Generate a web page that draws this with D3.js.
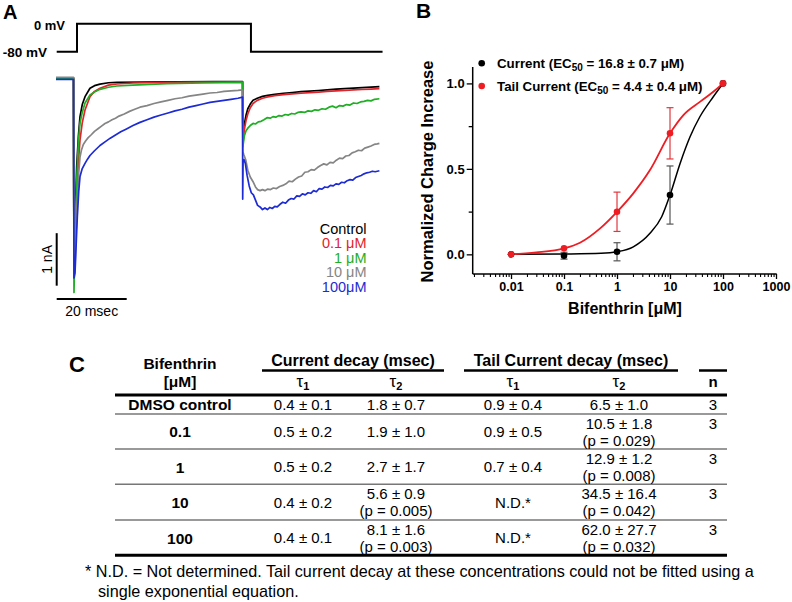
<!DOCTYPE html>
<html><head><meta charset="utf-8">
<script src="https://cdn.jsdelivr.net/npm/d3@7"></script>
<style>
html,body{margin:0;padding:0;background:#fff;}
svg{display:block;font-family:"Liberation Sans",Arial,Helvetica,sans-serif;}
</style></head>
<body>
<svg id="fig" width="792" height="602"></svg>
<script>
// ---------------- DATA ----------------
// Panel A: voltage protocol (ms, mV)
const protocolT = [0.2, 6.0, 6.0, 55.7, 55.7, 93.3];
const protocolV = [-80, -80, 0, 0, -80, -80];

// Panel A: current traces [time ms, current nA]
const traceControl = [[0,0.01],[5.0,0.01],[5.14,-3.8],[5.5,-2.6],[5.91,-1.68],[6.4,-1.1],[6.86,-0.73],[7.5,-0.5],[8.29,-0.35],[9.71,-0.19],[11,-0.14],[12.57,-0.11],[15,-0.085],[17.4,-0.076],[25,-0.07],[35,-0.066],[45,-0.065],[53.3,-0.062],
 [53.4,-1.15],[53.8,-0.88],[54.3,-0.70],[54.8,-0.58],[55.5,-0.49],[56.3,-0.42],[57.5,-0.38],[59,-0.345],[60.5,-0.325],[62.5,-0.305],[65,-0.285],[67.5,-0.27],[70,-0.255],[72.5,-0.245],[75,-0.232],[77.5,-0.22],[80,-0.207],[82.5,-0.197],[85,-0.188],[87.5,-0.178],[90,-0.168],[92.4,-0.16]];
const trace01 = [[0,0],[5.0,0],[5.14,-3.8],[5.6,-2.9],[6.0,-2.1],[6.4,-1.6],[6.86,-1.175],[7.5,-0.85],[8.29,-0.604],[9.71,-0.35],[11,-0.25],[12.57,-0.19],[15,-0.13],[17.4,-0.109],[22,-0.09],[30,-0.08],[40,-0.072],[53.3,-0.068],
 [53.4,-1.25],[53.8,-0.98],[54.3,-0.80],[54.8,-0.68],[55.5,-0.56],[56.3,-0.48],[57.5,-0.42],[59,-0.38],[60.5,-0.355],[62.5,-0.33],[65,-0.31],[67.5,-0.297],[70,-0.285],[72.5,-0.272],[75,-0.262],[77.5,-0.25],[80,-0.24],[82.5,-0.232],[85,-0.222],[87.5,-0.213],[90,-0.205],[92.4,-0.198]];
const trace1 = [[0,0.005],[5.0,0.005],[5.14,-4.08],[5.6,-2.6],[6.0,-1.8],[6.4,-1.2],[6.86,-0.851],[7.5,-0.65],[8.29,-0.47],[9.71,-0.318],[11,-0.26],[12.57,-0.21],[15,-0.17],[17.4,-0.147],[22,-0.13],[31.7,-0.1],[42,-0.09],[53.3,-0.08],
 [53.4,-1.3],[53.8,-1.1],[54.3,-1.0],[54.8,-0.95],[55.5,-0.90],[56.3,-0.86],[57,-0.87],[57.8,-0.83],[58.6,-0.82],[59.4,-0.79],[60.3,-0.75],[61.2,-0.76],[62,-0.73],[62.8,-0.74],[63.7,-0.71],[64.6,-0.72],[65.5,-0.69],[66.4,-0.70],[67.3,-0.67],[68.2,-0.68],[69.1,-0.65],[70,-0.64],[71,-0.65],[72,-0.62],[73,-0.63],[74,-0.60],[75,-0.61],[76,-0.58],[77,-0.59],[78,-0.55],[79,-0.53],[80,-0.56],[81,-0.52],[82,-0.53],[83,-0.50],[84,-0.51],[85,-0.47],[86,-0.48],[87,-0.45],[88,-0.44],[89,-0.42],[90,-0.43],[91,-0.40],[92.4,-0.39]];
const trace10 = [[0,0.02],[5.0,0.02],[5.14,-3.75],[5.43,-3.59],[5.8,-2.8],[6.09,-2.32],[6.5,-1.8],[6.86,-1.50],[7.3,-1.36],[7.8,-1.26],[8.5,-1.19],[9.2,-1.13],[10,-1.08],[11,-1.01],[12,-0.96],[13,-0.91],[14,-0.86],[15,-0.83],[16,-0.79],[17,-0.76],[18,-0.72],[19.5,-0.68],[21,-0.63],[22.5,-0.59],[24,-0.55],[26,-0.52],[28,-0.48],[30,-0.45],[32,-0.42],[34,-0.39],[36,-0.37],[38,-0.34],[40,-0.32],[42,-0.30],[44,-0.28],[46,-0.27],[48,-0.25],[50,-0.24],[52,-0.23],[53.3,-0.22],
 [53.4,-1.40],[53.7,-1.46],[54.2,-1.55],[54.8,-1.75],[55.5,-1.88],[56.3,-1.97],[57.0,-2.07],[57.6,-2.12],[58.3,-2.14],[59,-2.12],[59.7,-2.14],[60.5,-2.11],[61.3,-2.12],[62.1,-2.09],[63,-2.10],[63.9,-2.06],[64.8,-2.04],[65.7,-2.01],[66.6,-1.96],[67.5,-1.97],[68.4,-1.92],[69.3,-1.88],[70.2,-1.86],[71.1,-1.79],[72,-1.78],[72.9,-1.74],[73.8,-1.75],[74.7,-1.70],[75.6,-1.66],[76.5,-1.63],[77.4,-1.65],[78.3,-1.60],[79.2,-1.61],[80.1,-1.56],[81,-1.52],[81.9,-1.53],[82.8,-1.48],[83.7,-1.47],[84.6,-1.42],[85.5,-1.40],[86.4,-1.37],[87.3,-1.38],[88.2,-1.33],[89.1,-1.31],[90,-1.29],[90.9,-1.26],[91.8,-1.25],[92.4,-1.24]];
const trace100 = [[0,-0.02],[5.0,-0.02],[5.14,-3.8],[5.43,-3.71],[5.8,-3.1],[6.09,-2.64],[6.5,-2.15],[6.86,-1.87],[7.5,-1.72],[8.29,-1.62],[9,-1.54],[9.71,-1.47],[11,-1.38],[12.57,-1.28],[14,-1.21],[15.5,-1.14],[17,-1.08],[18.5,-1.02],[20,-0.97],[22,-0.90],[24,-0.84],[26,-0.79],[28,-0.74],[30,-0.70],[32,-0.66],[34,-0.62],[36,-0.59],[38,-0.55],[40,-0.52],[42,-0.49],[44,-0.46],[46,-0.44],[48,-0.42],[50,-0.40],[52,-0.38],[53.3,-0.36],
 [53.34,-2.30],[53.45,-1.6],[53.7,-1.55],[54.1,-1.62],[54.6,-1.85],[55.2,-2.05],[55.8,-2.18],[56.4,-2.22],[57,-2.32],[57.6,-2.42],[58.3,-2.45],[59,-2.50],[59.7,-2.47],[60.4,-2.50],[61.1,-2.46],[61.8,-2.48],[62.5,-2.44],[63.2,-2.45],[64,-2.40],[64.8,-2.36],[65.6,-2.38],[66.4,-2.32],[67.2,-2.29],[68,-2.30],[68.8,-2.24],[69.6,-2.25],[70.4,-2.20],[71.2,-2.22],[72,-2.18],[72.8,-2.19],[73.6,-2.14],[74.4,-2.16],[75.2,-2.10],[76,-2.11],[76.8,-2.07],[77.6,-2.08],[78.4,-2.04],[79.2,-2.05],[80,-2.01],[80.8,-2.02],[81.6,-1.98],[82.4,-1.99],[83.2,-1.95],[84,-1.93],[84.8,-1.94],[85.6,-1.89],[86.4,-1.87],[87.2,-1.85],[88,-1.82],[88.8,-1.80],[89.6,-1.79],[90.4,-1.77],[91.2,-1.78],[92.4,-1.76]];
const traceLabels = ["Control", "0.1 μM", "1 μM", "10 μM", "100μM"];
const traceColors = ["#000000", "#e3232b", "#1fae24", "#858585", "#1d2bd3"];

// Panel B: dose-response
const concentrations = [0.01, 0.1, 1, 10, 100];
const currentMean = [0, -0.008, 0.015, 0.347, 1.0];
const currentErr = [0, 0.02, 0.053, 0.17, 0];
const tailMean = [0, 0.035, 0.249, 0.708, 1.0];
const tailErr = [0, 0, 0.115, 0.15, 0];
const fitCurrentConc = [0.01, 0.1, 0.5, 1, 2.03, 4.19, 6.97, 10, 15.5, 23.9, 36.6, 65.6, 100];
const fitCurrentVal = [0, 0.002, 0.006, 0.015, 0.044, 0.123, 0.22, 0.347, 0.532, 0.688, 0.805, 0.922, 1.0];
const fitTailConc = [0.01, 0.03, 0.1, 0.2, 0.48, 1, 2.03, 4.19, 10, 17.9, 36.6, 65.6, 100];
const fitTailVal = [0, 0.011, 0.035, 0.068, 0.152, 0.249, 0.357, 0.493, 0.708, 0.815, 0.892, 0.951, 1.0];
const xTickValues = [0.01, 0.1, 1, 10, 100, 1000];
const xTickLabels = ["0.01", "0.1", "1", "10", "100", "1000"];
const yTickValues = [0, 0.5, 1.0];
const yTickLabels = ["0.0", "0.5", "1.0"];

// Panel C: table
const concLabels = ["DMSO control", "0.1", "1", "10", "100"];
const curTau1 = ["0.4 ± 0.1", "0.5 ± 0.2", "0.5 ± 0.2", "0.4 ± 0.2", "0.4 ± 0.1"];
const curTau2 = ["1.8 ± 0.7", "1.9 ± 1.0", "2.7 ± 1.7", "5.6 ± 0.9", "8.1 ± 1.6"];
const curTau2P = [null, null, null, "(p = 0.005)", "(p = 0.003)"];
const tailTau1 = ["0.9 ± 0.4", "0.9 ± 0.5", "0.7 ± 0.4", "N.D.*", "N.D.*"];
const tailTau2 = ["6.5 ± 1.0", "10.5 ± 1.8", "12.9 ± 1.2", "34.5 ± 16.4", "62.0 ± 27.7"];
const tailTau2P = [null, "(p = 0.029)", "(p = 0.008)", "(p = 0.042)", "(p = 0.032)"];
const nValues = ["3", "3", "3", "3", "3"];
const footnote1 = "* N.D. = Not determined. Tail current decay at these concentrations could not be fitted using a";
const footnote2 = "single exponential equation.";

// ---------------- DRAW ----------------
const svg = d3.select("#fig");
svg.append("rect").attr("width", 792).attr("height", 602).attr("fill", "#fff");

// ===== Panel A =====
const gA = svg.append("g");
gA.append("text").attr("x", 3).attr("y", 18.5).attr("font-size", 20).attr("font-weight", "bold").text("A");

const xA = d3.scaleLinear().domain([0, 92.4]).range([56, 379.4]);
const yA = d3.scaleLinear().domain([0, -1]).range([78.3, 130.8]);
const yV = d3.scaleLinear().domain([-80, 0]).range([51.7, 23.7]);

const protoLine = d3.line().x((d, i) => xA(protocolT[i])).y(d => yV(d));
gA.append("path").datum(protocolV).attr("d", protoLine)
  .attr("fill", "none").attr("stroke", "#000").attr("stroke-width", 2);
gA.append("text").attr("x", 65).attr("y", 29.5).attr("text-anchor", "end")
  .attr("font-size", 13).attr("font-weight", "bold").text("0 mV");
gA.append("text").attr("x", 47).attr("y", 56.5).attr("text-anchor", "end")
  .attr("font-size", 13.5).attr("font-weight", "bold").text("-80 mV");

const traceLine = d3.line().x(d => xA(d[0])).y(d => yA(d[1]));
const traces = [traceControl, trace01, trace1, trace10, trace100];
traces.forEach((tr, i) => {
  gA.append("path").datum(tr).attr("d", traceLine)
    .attr("fill", "none").attr("stroke", traceColors[i]).attr("stroke-width", 1.7)
    .attr("stroke-linejoin", "round");
});

// legend
traceLabels.forEach((lab, i) => {
  gA.append("text").attr("x", 366.5).attr("y", 234 + i * 14.4)
    .attr("text-anchor", "end").attr("font-size", 14.5).attr("fill", traceColors[i]).text(lab);
});

// scale bars
gA.append("line").attr("x1", xA(0.2)).attr("x2", xA(0.2)).attr("y1", yA(-2.95)).attr("y2", yA(-3.95))
  .attr("stroke", "#000").attr("stroke-width", 2);
gA.append("line").attr("x1", xA(0.2)).attr("x2", xA(20.2)).attr("y1", 299).attr("y2", 299)
  .attr("stroke", "#000").attr("stroke-width", 2);
gA.append("text").attr("transform", `translate(51.5,${(yA(-2.95) + yA(-3.95)) / 2}) rotate(-90)`)
  .attr("text-anchor", "middle").attr("font-size", 14).text("1 nA");
gA.append("text").attr("x", (xA(0.2) + xA(20.2)) / 2).attr("y", 316)
  .attr("text-anchor", "middle").attr("font-size", 14).text("20 msec");

// ===== Panel B =====
const gB = svg.append("g");
gB.append("text").attr("x", 416).attr("y", 18).attr("font-size", 21).attr("font-weight", "bold").text("B");

const xB = d3.scaleLog().domain([Math.pow(10, -2.723), 1000]).range([472.7, 776]);
const yB = d3.scaleLinear().domain([-0.115, 1.096]).range([274, 67]);

// axes lines
gB.append("line").attr("x1", 472.7).attr("x2", 472.7).attr("y1", 67).attr("y2", 274).attr("stroke", "#000").attr("stroke-width", 1.5);
gB.append("line").attr("x1", 472.7).attr("x2", 776.7).attr("y1", 274).attr("y2", 274).attr("stroke", "#000").attr("stroke-width", 1.5);

const yAxis = d3.axisLeft(yB).tickValues(yTickValues).tickSize(6).tickFormat((d, i) => yTickLabels[i]);
const gy = gB.append("g").attr("transform", "translate(472.7,0)").call(yAxis);
gy.select(".domain").remove();
gy.selectAll("line").attr("stroke-width", 1.3);
gy.selectAll("text").attr("font-size", 13).attr("font-weight", "bold").attr("font-family", "Liberation Sans, Arial, sans-serif").attr("x", -8);
const yMinor = d3.axisLeft(yB).tickValues([0.25, 0.75]).tickSize(4).tickFormat("");
const gym = gB.append("g").attr("transform", "translate(472.7,0)").call(yMinor);
gym.select(".domain").remove();
gym.selectAll("line").attr("stroke-width", 1.3);

const xAxis = d3.axisBottom(xB).tickValues(xTickValues).tickSize(5).tickFormat((d, i) => xTickLabels[i]);
const gx = gB.append("g").attr("transform", "translate(0,274)").call(xAxis);
gx.select(".domain").remove();
gx.selectAll("line").attr("stroke-width", 1.3);
gx.selectAll("text").attr("font-size", 12.5).attr("font-weight", "bold").attr("font-family", "Liberation Sans, Arial, sans-serif").attr("y", 8);
const minorX = [];
[-3, -2, -1, 0, 1, 2].forEach(e => { for (let m = 2; m <= 9; m++) { const v = m * Math.pow(10, e); if (v > xB.domain()[0] && v < 1000) minorX.push(v); } });
const xMinor = d3.axisBottom(xB).tickValues(minorX).tickSize(3).tickFormat("");
const gxm = gB.append("g").attr("transform", "translate(0,274)").call(xMinor);
gxm.select(".domain").remove();
gxm.selectAll("line").attr("stroke-width", 1.1);

gB.append("text").attr("x", 625).attr("y", 314).attr("text-anchor", "middle")
  .attr("font-size", 16).attr("font-weight", "bold").text("Bifenthrin [μM]");
gB.append("text").attr("transform", "translate(433,171.5) rotate(-90)").attr("text-anchor", "middle")
  .attr("font-size", 16.5).attr("font-weight", "bold").text("Normalized Charge Increase");

// fit curves
const fitLine = d3.line().curve(d3.curveMonotoneX);
gB.append("path").attr("d", fitLine(fitCurrentConc.map((c, i) => [xB(c), yB(fitCurrentVal[i])])))
  .attr("fill", "none").attr("stroke", "#000").attr("stroke-width", 1.5);
gB.append("path").attr("d", fitLine(fitTailConc.map((c, i) => [xB(c), yB(fitTailVal[i])])))
  .attr("fill", "none").attr("stroke", "#ee1d23").attr("stroke-width", 1.8);

function drawSeries(mean, err, color, barColor) {
  concentrations.forEach((c, i) => {
    if (err[i] > 0) {
      const x = xB(c);
      gB.append("line").attr("x1", x).attr("x2", x).attr("y1", yB(mean[i] - err[i])).attr("y2", yB(mean[i] + err[i])).attr("stroke", barColor).attr("stroke-width", 1.2);
      [mean[i] - err[i], mean[i] + err[i]].forEach(v => {
        gB.append("line").attr("x1", x - 3.5).attr("x2", x + 3.5).attr("y1", yB(v)).attr("y2", yB(v)).attr("stroke", barColor).attr("stroke-width", 1.2);
      });
    }
  });
  concentrations.forEach((c, i) => {
    gB.append("circle").attr("cx", xB(c)).attr("cy", yB(mean[i])).attr("r", 3.3).attr("fill", color);
  });
}
drawSeries(currentMean, currentErr, "#000", "#555");
drawSeries(tailMean, tailErr, "#ee1d23", "#e0383d");

// legend B
const legB = [
  {y: 63.3, color: "#000", pre: "Current (EC", post: " = 16.8 ± 0.7 μM)"},
  {y: 86, color: "#ee1d23", pre: "Tail Current (EC", post: " = 4.4 ± 0.4 μM)"}
];
legB.forEach(l => {
  gB.append("circle").attr("cx", 481.7).attr("cy", l.y).attr("r", 3.3).attr("fill", l.color);
  const t = gB.append("text").attr("x", 497).attr("y", l.y + 4.8).attr("font-size", 13.3).attr("font-weight", "bold");
  t.append("tspan").text(l.pre);
  t.append("tspan").attr("font-size", 10).attr("dy", 3).text("50");
  t.append("tspan").attr("dy", -3).text(l.post);
});

// ===== Panel C =====
const gC = svg.append("g");
gC.append("text").attr("x", 69).attr("y", 372).attr("font-size", 22).attr("font-weight", "bold").text("C");

const colX = [180, 303, 396, 513, 619, 713];
const rowEdges = [395, 414, 449, 484.3, 520, 555.3];

// header
gC.append("text").attr("x", colX[0]).attr("y", 369).attr("text-anchor", "middle").attr("font-size", 15.5).attr("font-weight", "bold").text("Bifenthrin");
gC.append("text").attr("x", colX[0]).attr("y", 387).attr("text-anchor", "middle").attr("font-size", 15.5).attr("font-weight", "bold").text("[μM]");
gC.append("text").attr("x", 353).attr("y", 366).attr("text-anchor", "middle").attr("font-size", 16).attr("font-weight", "bold").text("Current decay (msec)");
gC.append("text").attr("x", 571).attr("y", 366).attr("text-anchor", "middle").attr("font-size", 16).attr("font-weight", "bold").text("Tail Current decay (msec)");
[[262, 444], [464, 678], [699, 727]].forEach(s => {
  gC.append("line").attr("x1", s[0]).attr("x2", s[1]).attr("y1", 370.5).attr("y2", 370.5).attr("stroke", "#000").attr("stroke-width", 2.5);
});
[[colX[1], "1"], [colX[2], "2"], [colX[3], "1"], [colX[4], "2"]].forEach(d => {
  const t = gC.append("text").attr("x", d[0]).attr("y", 387).attr("text-anchor", "middle").attr("font-size", 17);
  t.append("tspan").text("τ");
  t.append("tspan").attr("font-size", 11).attr("font-weight", "bold").attr("dy", 3).text(d[1]);
});
gC.append("text").attr("x", colX[5]).attr("y", 387).attr("text-anchor", "middle").attr("font-size", 15).attr("font-weight", "bold").text("n");

// rules
gC.append("line").attr("x1", 115).attr("x2", 727).attr("y1", rowEdges[0]).attr("y2", rowEdges[0]).attr("stroke", "#000").attr("stroke-width", 3);
for (let r = 1; r < 5; r++) {
  gC.append("line").attr("x1", 115).attr("x2", 727).attr("y1", rowEdges[r]).attr("y2", rowEdges[r]).attr("stroke", "#777").attr("stroke-width", 1.5);
}
gC.append("line").attr("x1", 115).attr("x2", 727).attr("y1", rowEdges[5]).attr("y2", rowEdges[5]).attr("stroke", "#000").attr("stroke-width", 3);

function cell(x, y, txt, bold) {
  gC.append("text").attr("x", x).attr("y", y).attr("dy", "0.36em").attr("text-anchor", "middle")
    .attr("font-size", bold ? 15.5 : 15).attr("font-weight", bold ? "bold" : "normal").text(txt);
}
concLabels.forEach((lab, r) => {
  const cy = (rowEdges[r] + rowEdges[r + 1]) / 2 + 0.3;
  const top = cy - 8.5, bot = cy + 8.5;
  cell(colX[0], cy, lab, true);
  cell(colX[1], cy, curTau1[r], false);
  if (curTau2P[r]) { cell(colX[2], top, curTau2[r]); cell(colX[2], bot, curTau2P[r]); }
  else cell(colX[2], cy, curTau2[r]);
  cell(colX[3], cy, tailTau1[r]);
  if (tailTau2P[r]) { cell(colX[4], top, tailTau2[r]); cell(colX[4], bot, tailTau2P[r]); }
  else cell(colX[4], cy, tailTau2[r]);
  cell(colX[5], r === 0 ? cy : top, nValues[r]);
});

gC.append("text").attr("x", 85).attr("y", 577).attr("font-size", 16.2).text(footnote1);
gC.append("text").attr("x", 98).attr("y", 597).attr("font-size", 16.2).text(footnote2);
</script>
</body></html>
